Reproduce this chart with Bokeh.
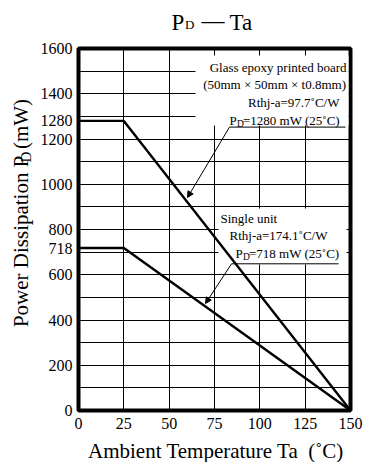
import math
from bokeh.plotting import figure
from bokeh.layouts import column, row
from bokeh.models import Label, BoxAnnotation, Arrow, NormalHead, FixedTicker
from bokeh.embed import file_html
from bokeh.resources import INLINE

# ---- data ----
temp_c = [0, 25, 150]
pd_board_mw = [1280, 1280, 0]
pd_single_mw = [718, 718, 0]
x_ticks = [0, 25, 50, 75, 100, 125, 150]
y_ticks = [0, 200, 400, 600, 718, 800, 1000, 1200, 1280, 1400, 1600]
y_grid = [0, 100, 200, 300, 400, 500, 600, 700, 800, 900, 1000,
          1100, 1200, 1300, 1400, 1500, 1600]
title_parts = ["P", "D", "\u2014", "Ta"]
x_label = "Ambient Temperature Ta \u00a0(\u02daC)"
y_label_parts = ["Power Dissipation P", "D", "(mW)"]
board_notes = ["Glass epoxy printed board", "(50mm \u00d7 50mm \u00d7 t0.8mm)",
               "Rthj-a=97.7\u02daC/W", "=1280 mW (25\u02daC)"]
single_notes = ["Single unit", "Rthj-a=174.1\u02daC/W", "=718 mW (25\u02daC)"]

X0, X1 = 0, 150
Y0, Y1 = 0, 1600
FONT = "Liberation Serif"

# page geometry (window pixels)
PAGE_W, PAGE_H = 366, 462
TOP_H = 36          # title strip
BOT_H = 22          # x-label strip
LEFT_W = 36         # y-label strip
FL, FR, FT, FB = 78, 350, 48, 410   # plot frame

MAIN_W = PAGE_W - LEFT_W
MAIN_H = PAGE_H - TOP_H - BOT_H


def dx(px):
    return X0 + (px - FL) * (X1 - X0) / (FR - FL)


def dy(py):
    return Y0 + (FB - py) * (Y1 - Y0) / (FB - FT)


def strip(w, h):
    f = figure(width=w, height=h, x_range=(0, w), y_range=(0, h),
               output_backend="svg", toolbar_location=None,
               x_axis_type=None, y_axis_type=None,
               min_border=0, min_border_left=0, min_border_right=0,
               min_border_top=0, min_border_bottom=0)
    f.outline_line_color = None
    f.background_fill_color = "white"
    f.border_fill_color = "white"
    f.xgrid.visible = False
    f.ygrid.visible = False
    return f


def put(fig, ox, oy, h, text, px, py, size, align="left", angle=0):
    # (px, py): window position of the text's anchor (vertical middle)
    fig.add_layout(Label(x=px - ox, y=h - (py - oy), text=text, text_font=FONT,
                         text_font_size=f"{size}px", text_align=align,
                         text_baseline="middle", angle=angle,
                         text_color="black"))


# ---- main plot ----
p = figure(width=MAIN_W, height=MAIN_H, x_range=(X0, X1), y_range=(Y0, Y1),
           output_backend="svg", toolbar_location=None,
           min_border_left=FL - LEFT_W, min_border_right=PAGE_W - FR,
           min_border_top=FT - TOP_H, min_border_bottom=TOP_H + MAIN_H - FB)
p.background_fill_color = "white"
p.border_fill_color = "white"
p.outline_line_color = "black"
p.outline_line_width = 4

for ax in (p.xaxis[0], p.yaxis[0]):
    ax.axis_line_color = None
    ax.major_tick_line_color = None
    ax.minor_tick_line_color = None
    ax.major_tick_out = 0
    ax.major_tick_in = 0
    ax.minor_tick_out = 0
    ax.minor_tick_in = 0
    ax.major_label_text_font = FONT
    ax.major_label_text_font_size = "16px"
    ax.major_label_text_color = "black"
p.xaxis.ticker = FixedTicker(ticks=x_ticks)
p.yaxis.ticker = FixedTicker(ticks=y_ticks)
p.xaxis.major_label_standoff = 7
p.yaxis.major_label_standoff = 6

p.xgrid.ticker = FixedTicker(ticks=x_ticks)
p.ygrid.ticker = FixedTicker(ticks=y_grid)
for g in (p.xgrid[0], p.ygrid[0]):
    g.grid_line_color = "black"
    g.grid_line_width = 1
    g.grid_line_alpha = 1

# white boxes behind the notes
p.add_layout(BoxAnnotation(left=dx(195), right=dx(348), top=dy(55), bottom=dy(125),
                           fill_color="white", fill_alpha=1, line_color=None))
p.add_layout(BoxAnnotation(left=dx(218), right=dx(346), top=dy(208), bottom=dy(264),
                           fill_color="white", fill_alpha=1, line_color=None))

# curves
p.line(temp_c, pd_board_mw, line_color="black", line_width=2.4, level="overlay")
p.line(temp_c, pd_single_mw, line_color="black", line_width=2.4, level="overlay")


def txt(text, px, py, size, align="left"):
    # (px, py): window position of the text's vertical middle
    p.add_layout(Label(x=dx(px), y=dy(py), text=text, text_font=FONT,
                       text_font_size=f"{size}px", text_align=align,
                       text_baseline="middle", text_color="black"))


# notes: glass epoxy board
txt(board_notes[0], 346, 67.2, 13, "right")
txt(board_notes[1], 345.5, 84.2, 13, "right")
txt(board_notes[2], 339, 102.2, 13, "right")
txt("P", 229, 120.0, 13)
txt("D", 236.5, 123.7, 9.5)
txt(board_notes[3], 242.5, 120.0, 13)

# notes: single unit
txt(single_notes[0], 220, 218.4, 13)
txt(single_notes[1], 229, 235.0, 13)
txt("P", 235, 253.0, 13)
txt("D", 242.5, 256.7, 9.5)
txt(single_notes[2], 248.5, 253.0, 13)

# leader lines and arrows
for (x_s, y_s, x_e, y_e) in [(229, 126.6, 345, 126.6), (231, 263.3, 338, 263.3)]:
    p.add_layout(Arrow(x_start=dx(x_s), y_start=dy(y_s), x_end=dx(x_e), y_end=dy(y_e),
                       end=None, line_color="black", line_width=1))
for (x_s, y_s, x_e, y_e) in [(229, 126.6, 187, 197), (231, 263.3, 205, 303)]:
    p.add_layout(Arrow(x_start=dx(x_s), y_start=dy(y_s), x_end=dx(x_e), y_end=dy(y_e),
                       end=NormalHead(size=6, fill_color="black", line_color="black"),
                       line_color="black", line_width=1))

# ---- title strip ----
t = strip(PAGE_W, TOP_H)
put(t, 0, 0, TOP_H, title_parts[0], 171, 21.7, 23)
put(t, 0, 0, TOP_H, title_parts[1], 184.5, 24.0, 13)
put(t, 0, 0, TOP_H, title_parts[2], 201, 19.8, 23)
put(t, 0, 0, TOP_H, title_parts[3], 229, 21.7, 23)

# ---- y-label strip (rotated text built from pieces, each centred) ----
yl = strip(LEFT_W, MAIN_H)
YL = 21
ws = 0.72 * YL                     # subscript size
w1 = 8.167 * YL                    # "Power Dissipation P"
pad = 3                            # gap before the subscript
w2 = 0.722 * ws                    # "D"
gap = 0.25 * YL + 1                # space before "(mW)"
w3 = 2.388 * YL                    # "(mW)"
Y_START = 337
c1 = Y_START - w1 / 2
c2 = Y_START - w1 - pad - w2 / 2
c3 = Y_START - w1 - pad - w2 - gap - w3 / 2
put(yl, 0, TOP_H, MAIN_H, y_label_parts[0], 20, c1, YL, "center", math.pi / 2)
put(yl, 0, TOP_H, MAIN_H, y_label_parts[1], 25.5, c2, ws, "center", math.pi / 2)
put(yl, 0, TOP_H, MAIN_H, y_label_parts[2], 20, c3, YL, "center", math.pi / 2)

# ---- x-label strip ----
xl = strip(PAGE_W, BOT_H)
put(xl, 0, PAGE_H - BOT_H, BOT_H, x_label, 215.5, 450, 21, "center")

layout = column(t, row(yl, p), xl)
open("out.html", "w").write(file_html(layout, INLINE))
